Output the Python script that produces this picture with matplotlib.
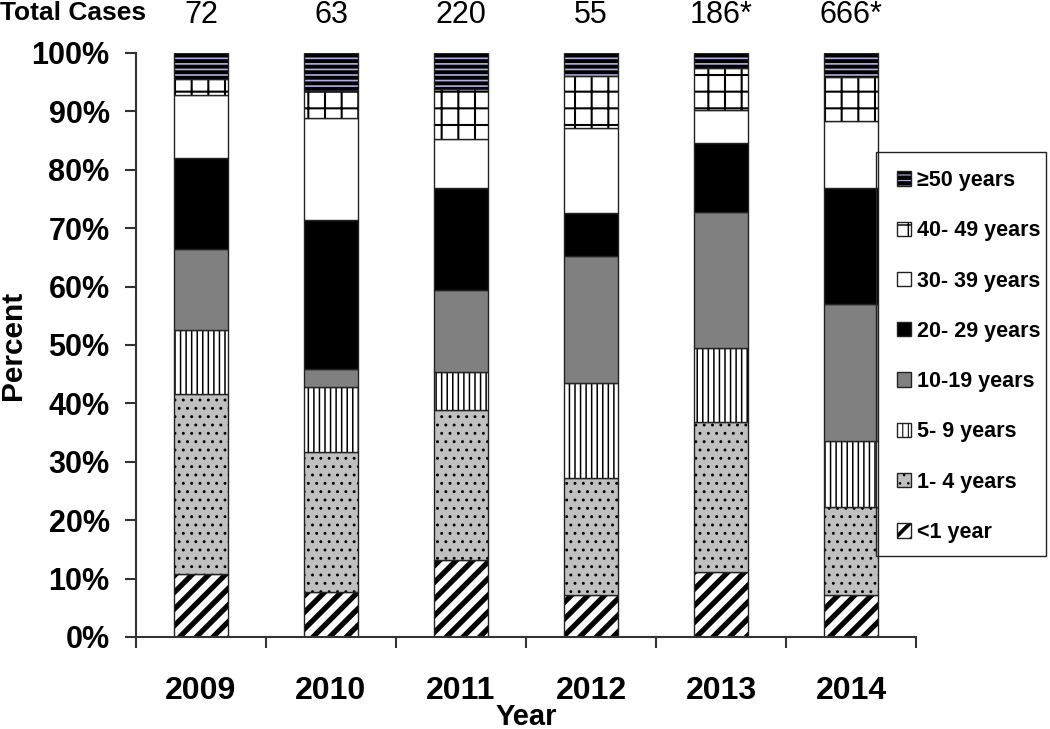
import matplotlib
matplotlib.use('Agg')
import matplotlib.pyplot as plt
import numpy as np
from matplotlib.patches import Patch, Rectangle
from matplotlib.legend_handler import HandlerTuple, HandlerPatch
from matplotlib.transforms import blended_transform_factory

# ---------------- data ----------------
years = ['2009', '2010', '2011', '2012', '2013', '2014']
total_cases = ['72', '63', '220', '55', '186*', '666*']

age_groups = ['<1 year', '1- 4 years', '5- 9 years', '10-19 years',
              '20- 29 years', '30- 39 years', '40- 49 years', '\u226550 years']

lt1 = [10.8, 7.7, 13.2, 7.2, 11.1, 7.2]
y1_4 = [30.8, 24.0, 25.7, 20.0, 25.7, 15.1]
y5_9 = [11.0, 11.1, 6.5, 16.3, 12.7, 11.3]
y10_19 = [13.8, 3.1, 14.0, 21.7, 23.3, 23.4]
y20_29 = [15.6, 25.5, 17.5, 7.4, 11.8, 19.9]
y30_39 = [10.8, 17.5, 8.4, 14.6, 5.6, 11.5]
y40_49 = [2.7, 4.6, 8.5, 8.9, 7.2, 7.5]
y50 = [4.5, 6.5, 6.2, 3.9, 2.6, 4.1]

series = [lt1, y1_4, y5_9, y10_19, y20_29, y30_39, y40_49, y50]

y_ticks = [0, 10, 20, 30, 40, 50, 60, 70, 80, 90, 100]
y_ticklabels = [f'{v}%' for v in y_ticks]

# ---------------- styles ----------------
styles = [
    dict(face='white', hatch='//', hcolor='black', hlw=3.8),
    dict(face='#c0c0c0', hatch='..', hcolor='black', hlw=0.9),
    dict(face='white', hatch='|||', hcolor='black', hlw=1.1),
    dict(face='#808080', hatch=None, hcolor='#808080', hlw=1.0),
    dict(face='black', hatch=None, hcolor='black', hlw=1.0),
    dict(face='white', hatch=None, hcolor='white', hlw=1.0),
    dict(face='white', hatch='+', hcolor='black', hlw=1.5),
    dict(face='black', hatch='---', hcolor='#b0b0e0', hlw=1.2),
]
outline = '#222222'

plt.rcParams['font.family'] = ['Liberation Sans', 'DejaVu Sans']

fig = plt.figure(figsize=(10.5, 7.29), dpi=100)
ax = fig.add_axes([136 / 1050, 1 - 637 / 729, 780 / 1050, 584 / 729])

x = np.arange(len(years))
width = 0.415
bottom = np.zeros(len(years))
handles = []
for vals, st in zip(series, styles):
    vals = np.array(vals)
    with plt.rc_context({'hatch.linewidth': st['hlw']}):
        bars = ax.bar(x, vals, width, bottom=bottom, color=st['face'],
                      edgecolor=st['hcolor'], hatch=st['hatch'], linewidth=0)
        hp = Patch(facecolor=st['face'], edgecolor=st['hcolor'],
                   hatch=st['hatch'], linewidth=0)
    hp._my_hlw = st['hlw']
    for b in list(bars) + [hp]:
        if hasattr(b, 'set_hatch_linewidth'):
            b.set_hatch_linewidth(st['hlw'])
    ax.bar(x, vals, width, bottom=bottom, fill=False,
           edgecolor=outline, linewidth=1.0)
    op = Patch(fill=False, edgecolor=outline, linewidth=1.0)
    op._my_hlw = 1.0
    handles.append((hp, op))
    bottom = bottom + vals

# axes formatting
ax.set_xlim(-0.5, len(years) - 0.5)
ax.set_ylim(0, 100)
for s in ['top', 'right']:
    ax.spines[s].set_visible(False)
for s in ['left', 'bottom']:
    ax.spines[s].set_color('#333333')
    ax.spines[s].set_linewidth(1.5)

ax.set_yticks(y_ticks)
ax.set_yticklabels(y_ticklabels, fontsize=22, fontweight='bold')
ax.tick_params(axis='y', direction='out', length=8, width=1.5,
               color='#333333', pad=11)

ax.set_xticks(np.arange(-0.5, len(years), 1.0))
ax.set_xticklabels([''] * (len(years) + 1))
ax.tick_params(axis='x', which='major', direction='out', length=8,
               width=1.5, color='#333333')
ax.set_xticks(x, minor=True)
ax.set_xticklabels(years, minor=True, fontsize=23, fontweight='bold')
ax.tick_params(axis='x', which='minor', length=0, pad=28)

fig.text(526 / 1050, 1 - 717 / 729, 'Year', ha='center', va='center',
         fontsize=21, fontweight='bold')
fig.text(13 / 1050, 1 - 345 / 729, 'Percent', ha='center', va='center',
         rotation=90, fontsize=21.5, fontweight='bold')

# header
fig.text(0.0, 1 - 13 / 729, 'Total Cases', ha='left', va='center',
         fontsize=19, fontweight='bold')
trans = blended_transform_factory(ax.transData, fig.transFigure)
for xi, t in zip(x, total_cases):
    ax.text(xi, 1 - 15 / 729, t, transform=trans, ha='center', va='center',
            fontsize=22, clip_on=False)


# legend (top to bottom: oldest first)
def make_patch(legend, orig_handle, xdescent, ydescent, width, height,
               fontsize):
    return Rectangle((-xdescent, -ydescent), width, height)


class HatchPatchHandler(HandlerPatch):
    def create_artists(self, legend, orig_handle, xdescent, ydescent,
                       width, height, fontsize, trans):
        arts = super().create_artists(legend, orig_handle, xdescent,
                                      ydescent, width, height, fontsize,
                                      trans)
        hlw = getattr(orig_handle, '_my_hlw', 1.0)
        for a in arts:
            if hasattr(a, 'set_hatch_linewidth'):
                a.set_hatch_linewidth(hlw * 0.7)
        return arts


leg = fig.legend(handles[::-1], age_groups[::-1],
                 handler_map={tuple: HandlerTuple(ndivide=1, pad=0),
                              Patch: HatchPatchHandler(patch_func=make_patch)},
                 loc='upper left', bbox_to_anchor=(897 / 1050, 1 - 170 / 729),
                 borderaxespad=0, frameon=False,
                 prop={'size': 15.5, 'weight': 'bold'},
                 handlelength=0.65, handleheight=0.65, handletextpad=0.3,
                 labelspacing=1.36, borderpad=0)
fig.patches.append(Rectangle((876 / 1050, 1 - 556 / 729), 170 / 1050,
                             404 / 729, transform=fig.transFigure,
                             fill=False, edgecolor='#222222', linewidth=1.0))

fig.savefig('out.png', dpi=100)
